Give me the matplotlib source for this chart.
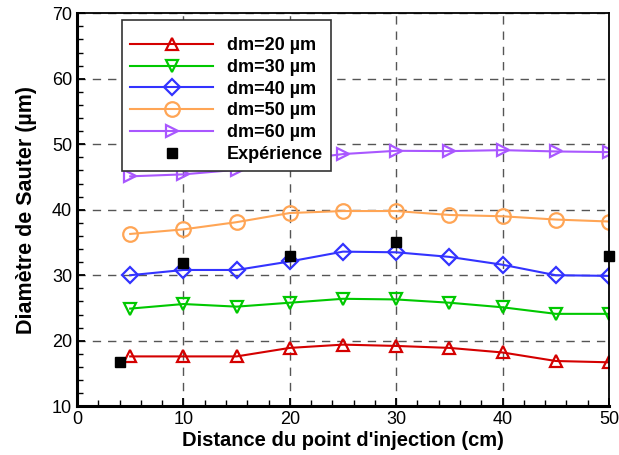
import matplotlib.pyplot as plt
from matplotlib.ticker import MultipleLocator

plt.rcParams['font.family'] = ['Liberation Sans', 'DejaVu Sans']

# Données
x = [5, 10, 15, 20, 25, 30, 35, 40, 45, 50]
dm20 = [17.6, 17.6, 17.6, 18.9, 19.4, 19.2, 18.9, 18.2, 16.9, 16.7]
dm30 = [24.9, 25.6, 25.2, 25.8, 26.4, 26.3, 25.8, 25.1, 24.1, 24.1]
dm40 = [30.0, 30.8, 30.8, 32.1, 33.6, 33.5, 32.8, 31.6, 30.0, 29.9]
dm50 = [36.3, 37.0, 38.1, 39.5, 39.8, 39.8, 39.2, 39.0, 38.5, 38.2]
dm60 = [45.1, 45.4, 46.1, 47.5, 48.5, 49.0, 48.95, 49.1, 48.9, 48.8]
x_exp = [4, 10, 20, 30, 50]
y_exp = [16.7, 31.9, 33.0, 35.0, 33.0]

fig = plt.figure(figsize=(6.19, 4.55), dpi=100)
ax = fig.add_axes([0.1244, 0.1073, 0.8594, 0.8635])

ax.plot(x, dm20, '-', color='#d40000', lw=1.5, marker='^', ms=9, mfc='none', mew=1.6, label='dm=20 µm')
ax.plot(x, dm30, '-', color='#00c800', lw=1.5, marker='v', ms=9, mfc='none', mew=1.6, label='dm=30 µm')
ax.plot(x, dm40, '-', color='#3333ff', lw=1.5, marker='D', ms=8, mfc='none', mew=1.6, label='dm=40 µm')
ax.plot(x, dm50, '-', color='#ffa555', lw=1.5, marker='o', ms=10.5, mfc='none', mew=1.6, label='dm=50 µm')
ax.plot(x, dm60, '-', color='#a957ff', lw=1.5, marker='>', ms=9, mfc='none', mew=1.6, label='dm=60 µm')
ax.plot(x_exp, y_exp, 's', color='black', ms=7.5, ls='none', label='Expérience', clip_on=False)

ax.set_xlim(0, 50)
ax.set_ylim(10, 70)
ax.xaxis.set_major_locator(MultipleLocator(10))
ax.xaxis.set_minor_locator(MultipleLocator(2))
ax.yaxis.set_major_locator(MultipleLocator(10))
ax.yaxis.set_minor_locator(MultipleLocator(2))
ax.tick_params(which='both', direction='in', top=False, right=False, labelsize=13)
ax.tick_params(which='major', length=6, width=1.3)
ax.tick_params(which='minor', length=4, width=1.0)
ax.grid(True, which='major', ls=(0, (6, 5)), color='#555555', lw=1.0)

for s in ['left', 'bottom']:
    ax.spines[s].set_linewidth(2.2)
for s in ['top', 'right']:
    ax.spines[s].set_linewidth(1.3)

ax.set_xlabel("Distance du point d'injection (cm)", fontsize=14.5, fontweight='bold', labelpad=2)
ax.set_ylabel('Diamètre de Sauter (µm)', fontsize=15.5, fontweight='bold', labelpad=11)

# titre vide pour reproduire la marge haute de la légende
leg = ax.legend(loc='upper left', bbox_to_anchor=(0.085, 0.984), title=' ', title_fontsize=4,
                prop={'weight': 'bold', 'size': 13}, handlelength=4.6, handletextpad=0.75,
                labelspacing=0.26, borderpad=0.45, fancybox=False, framealpha=1,
                edgecolor='#333333', borderaxespad=0)
leg.get_frame().set_linewidth(1.2)

fig.savefig('out.png', dpi=100)
